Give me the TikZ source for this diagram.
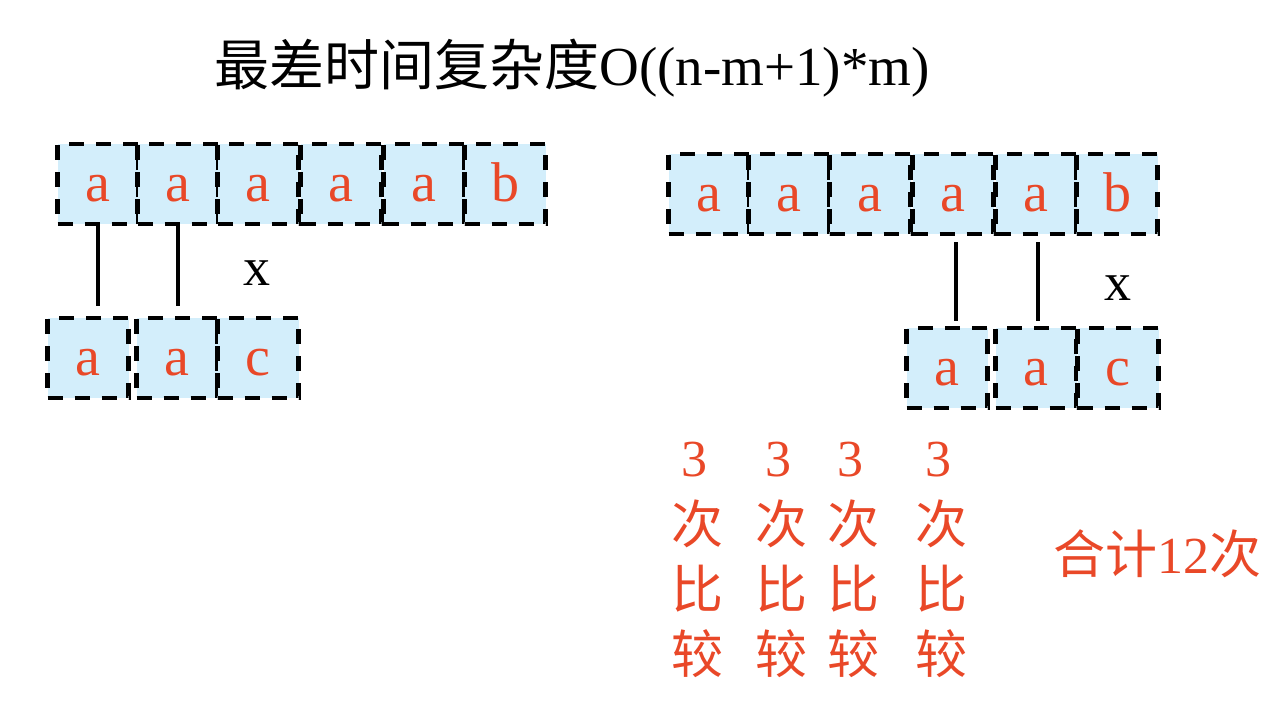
\documentclass[tikz,border=0pt]{standalone}
\usepackage{fontspec}
\setmainfont{Liberation Serif}
\newfontfamily\cjk{Noto Sans CJK SC}
\definecolor{boxblue}{RGB}{211,238,251}
\definecolor{redtxt}{RGB}{233,72,40}
\begin{document}
\begin{tikzpicture}[x=1pt,y=-1pt,
  cell/.style={draw=black, line width=4.5pt, dash pattern=on 15pt off 12pt, fill=boxblue,
    minimum width=81pt, minimum height=80pt, inner sep=0pt, text=redtxt,
    font=\fontsize{56}{60}\selectfont, text height=34pt, text depth=0pt},
  link/.style={draw=black, line width=4.5pt},
  blk/.style={font=\fontsize{54}{60}\selectfont, text=black, inner sep=0pt},
  redlbl/.style={font=\fontsize{52}{60}\selectfont, text=redtxt, inner sep=0pt}]
\useasboundingbox (0,0) rectangle (1278,705);
% title
\node[font=\fontsize{55}{60}\selectfont, anchor=base, inner sep=0pt] (title) at (572,85) {{\cjk 最差时间复杂度}O((n-m+1)*m)};
% left top row
\node[cell] (lt1) at (98,184) {a};
\node[cell] (lt2) at (178,184) {a};
\node[cell] (lt3) at (258,184) {a};
\node[cell] (lt4) at (341,184) {a};
\node[cell] (lt5) at (424,184) {a};
\node[cell] (lt6) at (505,184) {b};
% left bottom row
\node[cell] (lb1) at (88,358) {a};
\node[cell] (lb2) at (177,358) {a};
\node[cell] (lb3) at (258,358) {c};
\draw[link, shorten <=0pt, shorten >=10pt] (lt1.south) -- (lt1.south |- lb1.north);
\draw[link, shorten <=0pt, shorten >=10pt] (lt2.south) -- (lt2.south |- lb2.north);
\node[blk, anchor=base] (lx) at (257,285) {x};
% right top row
\node[cell] (rt1) at (709,194) {a};
\node[cell] (rt2) at (789,194) {a};
\node[cell] (rt3) at (870,194) {a};
\node[cell] (rt4) at (953,194) {a};
\node[cell] (rt5) at (1036,194) {a};
\node[cell] (rt6) at (1117,194) {b};
% right bottom row
\node[cell] (rb1) at (947,368) {a};
\node[cell] (rb2) at (1036,368) {a};
\node[cell] (rb3) at (1118,368) {c};
\draw[link, shorten <=6pt, shorten >=5pt] ([xshift=3pt]rt4.south) -- ([xshift=3pt]rt4.south |- rb1.north);
\draw[link, shorten <=6pt, shorten >=5pt] ([xshift=2pt]rt5.south) -- ([xshift=2pt]rt5.south |- rb2.north);
\node[blk, anchor=base] (rx) at (1118,300) {x};
% counts
\foreach \x [count=\i] in {697,781,853,941} {
  \node[redlbl, anchor=base] (three\i) at (\x-3,476) {3};
  \node[redlbl, anchor=base] (ci\i) at (\x,543) {\cjk 次};
  \node[redlbl, anchor=base] (bi\i) at (\x,608) {\cjk 比};
  \node[redlbl, anchor=base] (jiao\i) at (\x,673) {\cjk 较};
}
\node[redlbl, anchor=base] (total) at (1157,573) {{\cjk 合计}12{\cjk 次}};
\end{tikzpicture}
\end{document}
